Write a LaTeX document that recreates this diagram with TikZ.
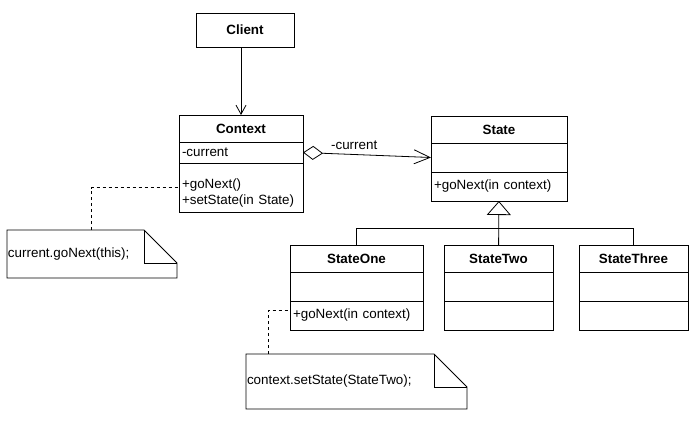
\documentclass[tikz,border=0pt]{standalone}
\usepackage{fontspec}
\setmainfont{Liberation Sans}
\usetikzlibrary{positioning,arrows.meta}
\newcommand{\umlfont}{\fontsize{13.4}{16}\selectfont}
\tikzset{
        umlbox/.style={draw, rectangle, outer sep=0pt, line width=0.8pt},
        titlepart/.style={umlbox, font=\umlfont\bfseries, minimum height=27pt, inner sep=0pt},
        bodypart/.style={umlbox, font=\umlfont, align=left, inner xsep=3pt, inner ysep=0pt},
        notebox/.style={outer sep=0pt, inner xsep=1pt, inner ysep=0pt, font=\umlfont, align=left},
        notelink/.style={line width=0.8pt, dash pattern=on 3pt off 3pt}
}

\begin{document}
\begin{tikzpicture}[x=1pt, y=-1pt, line width=0.8pt]
        \useasboundingbox (0,0) rectangle (699,423);

        \node[titlepart, minimum width=98pt, minimum height=34pt] (client) at (245,30) {Client};

        % context class
        \node[titlepart, minimum width=124pt] (ctx-title) at (241,128.5) {Context};
        \node[bodypart, text width=118pt, minimum height=21pt, below=0pt of ctx-title] (ctx-attr) {-current};
        \node[bodypart, text width=118pt, minimum height=49pt, below=0pt of ctx-attr] (ctx-ops) {\rule{0pt}{20pt}+goNext()\\+setState(in State)};

        % state class
        \node[titlepart, minimum width=136pt] (state-title) at (499,129.5) {State};
        \node[bodypart, text width=130pt, minimum height=29pt, below=0pt of state-title] (state-attr) {};
        \node[bodypart, text width=130pt, minimum height=29pt, below=0pt of state-attr] (state-ops) {+goNext(in context)};

        % concrete states
        \foreach \n/\t/\x/\w/\tw/\op in {one/StateOne/356.5/133/127/{+goNext(in context)}, two/StateTwo/498.5/109/103/{}, three/StateThree/633.5/109/103/{}}{
                \node[titlepart, minimum width=\w pt] (\n-title) at (\x,258.5) {\t};
                \node[bodypart, text width=\tw pt, minimum height=29pt, below=0pt of \n-title] (\n-attr) {};
                \node[bodypart, text width=\tw pt, minimum height=29pt, below=0pt of \n-attr] (\n-ops) {\op};
            }

        \draw[-{Straight Barb[length=9pt,width=10pt]}] (client.south -| ctx-title.north) -- (ctx-title.north);
        \draw[{Diamond[open,length=20pt,width=14pt]}-{Straight Barb[length=16pt,width=14pt]}] (ctx-attr.east) -- node[pos=0.4, above=1pt, font=\umlfont] (role) {-current} (state-attr.west);

        \draw[-{Triangle[open,length=14pt,width=24pt]}] (two-title) -- (state-ops);
        \draw (one-title.north) -- ++(0,-17) -| (three-title.north);

        % notes
        \node[notebox, text width=168pt, minimum height=48pt] (note-a) at (92,254) {current.goNext(this);};
        \node[notebox, text width=219pt, minimum height=55pt] (note-b) at (356.5,381.5) {context.setState(StateTwo);};
        \foreach \n in {note-a, note-b}{
                \draw (\n.north west) -- ([xshift=-33pt]\n.north east) -- ([yshift=-33pt]\n.north east) -- (\n.south east) -- (\n.south west) -- cycle;
                \draw ([xshift=-33pt]\n.north east) |- ([yshift=-33pt]\n.north east);
            }

        \draw[notelink] ([xshift=84pt]note-a.north west) |- (ctx-ops.west);
        \draw[notelink] ([xshift=22pt]note-b.north west) |- ([yshift=5pt]one-ops.west);
\end{tikzpicture}
\end{document}
